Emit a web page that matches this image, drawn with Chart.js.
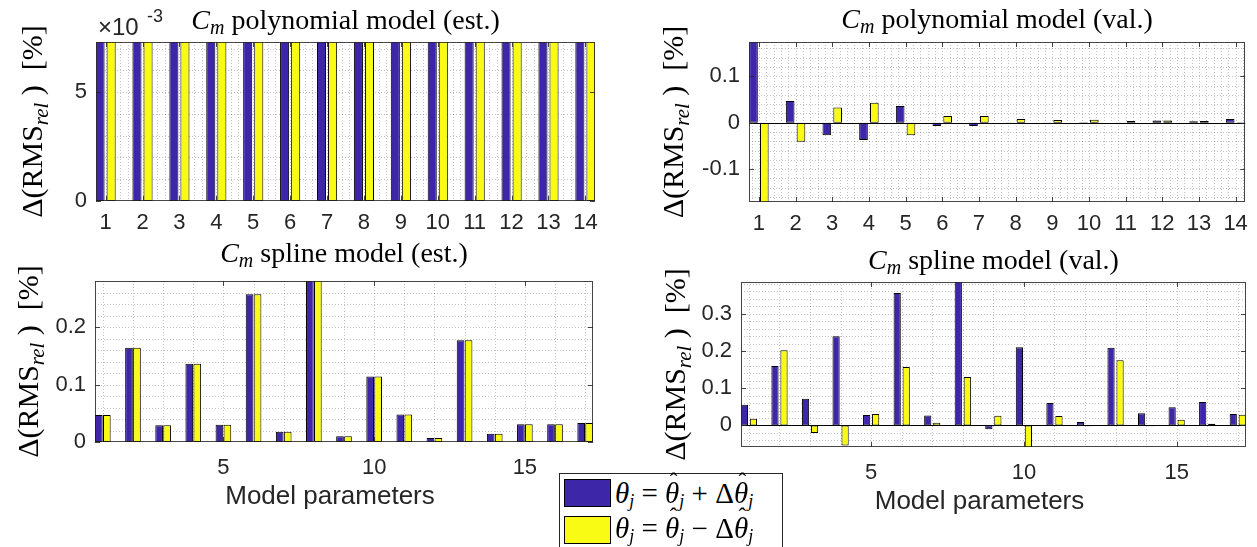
<!DOCTYPE html>
<html lang="en">
<head>
<meta charset="UTF-8">
<title>Cm models - parameter sensitivity</title>
<script src="https://cdn.jsdelivr.net/npm/chart.js"></script>
<style>
    body { margin: 0; background: #fff; overflow: hidden; }
    #fig { position: relative; width: 1257px; height: 547px; overflow: hidden; }
    #fig canvas { position: absolute; }
    .legend {
        position: absolute; left: 559px; top: 473px; width: 222px; height: 90px;
        border: 1px solid #262626; background: #fff;
        font-family: 'Liberation Serif', serif; font-size: 29px; line-height: 1; color: #000;
    }
    .row { position: absolute; left: 4px; height: 28px; display: flex; align-items: center; white-space: nowrap; }
    .sw { display: inline-block; width: 45px; height: 26px; border: 1px solid #000; margin-right: 4px; }
    .legend sub { font-size: 0.62em; vertical-align: -0.24em; line-height: 0; }
    .hat { position: relative; display: inline-block; line-height: 1; }
    .hat .h { position: absolute; left: 0.2em; top: -0.36em; font-style: normal; font-size: 0.8em; }
</style>
</head>
<body>
<div id="fig">
    <canvas id="tl" width="628" height="240" style="left:0;top:0"></canvas>
    <canvas id="tr" width="629" height="240" style="left:628px;top:0"></canvas>
    <canvas id="bl" width="628" height="307" style="left:0;top:240px"></canvas>
    <canvas id="br" width="629" height="307" style="left:628px;top:240px"></canvas>
    <div class="legend">
        <div class="row" style="top:5px"><span class="sw" style="background:#3E26A8"></span><span><i>θ</i><sub><i>j</i></sub>&nbsp;=&nbsp;<i class="hat">θ<span class="h">ˆ</span></i><sub><i>j</i></sub>&nbsp;+&nbsp;Δ<i class="hat">θ<span class="h">ˆ</span></i><sub><i>j</i></sub></span></div>
        <div class="row" style="top:42px"><span class="sw" style="background:#F9FB15"></span><span style="position:relative;top:-2px"><i>θ</i><sub><i>j</i></sub>&nbsp;=&nbsp;<i class="hat">θ<span class="h">ˆ</span></i><sub><i>j</i></sub>&nbsp;−&nbsp;Δ<i class="hat">θ<span class="h">ˆ</span></i><sub><i>j</i></sub></span></div>
    </div>
</div>

<script>
    // parameters / ticks
    const polyParams = [1, 2, 3, 4, 5, 6, 7, 8, 9, 10, 11, 12, 13, 14];
    const splineParams = [1, 2, 3, 4, 5, 6, 7, 8, 9, 10, 11, 12, 13, 14, 15, 16, 17];
    const polyXTicks = [1, 2, 3, 4, 5, 6, 7, 8, 9, 10, 11, 12, 13, 14];
    const splineXTicks = [5, 10, 15];
    const polyEstYTicks = [0, 0.005];
    const polyValYTicks = [-0.1, 0, 0.1];
    const splineEstYTicks = [0, 0.1, 0.2];
    const splineValYTicks = [0, 0.1, 0.2, 0.3];

    // Delta RMS_rel [%], theta + dtheta / theta - dtheta
    const polyEstPlus = [0.0095, 0.0092, 0.0098, 0.0094, 0.0090, 0.0096, 0.0093, 0.0097, 0.0091, 0.0095, 0.0092, 0.0096, 0.0094, 0.0093];
    const polyEstMinus = [0.0095, 0.0092, 0.0098, 0.0094, 0.0090, 0.0096, 0.0093, 0.0097, 0.0091, 0.0095, 0.0092, 0.0096, 0.0094, 0.0093];
    const polyValPlus = [0.21, 0.047, -0.027, -0.0375, 0.036, -0.007, -0.007, -0.0015, -0.002, 0.0008, 0.0005, 0.005, 0.003, 0.008];
    const polyValMinus = [-0.21, -0.041, 0.033, 0.043, -0.027, 0.0144, 0.0144, 0.008, 0.0058, 0.0065, 0.0036, 0.005, 0.0036, 0.001];
    const splineEstPlus = [0.047, 0.164, 0.029, 0.136, 0.030, 0.257, 0.018, 0.30, 0.010, 0.114, 0.048, 0.007, 0.177, 0.0144, 0.031, 0.031, 0.033];
    const splineEstMinus = [0.047, 0.164, 0.029, 0.136, 0.030, 0.257, 0.018, 0.30, 0.010, 0.114, 0.048, 0.007, 0.177, 0.0144, 0.031, 0.031, 0.033];
    const splineValPlus = [0.0555, 0.160, 0.0716, 0.240, 0.028, 0.356, 0.027, 0.42, -0.010, 0.210, 0.060, 0.009, 0.2086, 0.033, 0.049, 0.0627, 0.031];
    const splineValMinus = [0.018, 0.202, -0.0206, -0.0537, 0.031, 0.157, 0.007, 0.130, 0.026, -0.08, 0.025, -0.002, 0.1755, -0.002, 0.015, 0.0045, 0.0286];

    const BLUE = '#3E26A8';
    const YELLOW = '#F9FB15';
    const SERIF = '"Liberation Serif", serif';
    const SANS = '"Liberation Sans", Arial, sans-serif';
    const AXC = '#262626';

    function richWidth(ctx, parts) {
        let w = 0;
        parts.forEach(function (p) { ctx.font = p.font; w += ctx.measureText(p.t).width; });
        return w;
    }
    function drawRich(ctx, parts, cx, y) {
        let x = cx - richWidth(ctx, parts) / 2;
        parts.forEach(function (p) {
            ctx.font = p.font;
            ctx.fillText(p.t, x, y + (p.dy || 0));
            x += ctx.measureText(p.t).width;
        });
    }
    function gridLines(ctx, scale, step, a, vertical) {
        const k0 = Math.ceil(scale.min / step - 1e-9);
        for (let k = k0; k * step <= scale.max + 1e-12; k++) {
            const p = Math.round(scale.getPixelForValue(k * step)) + 0.5;
            ctx.beginPath();
            if (vertical) { ctx.moveTo(p, a.top); ctx.lineTo(p, a.bottom); }
            else { ctx.moveTo(a.left, p); ctx.lineTo(a.right, p); }
            ctx.stroke();
        }
    }

    const matlabLook = {
        id: 'matlabLook',
        beforeDatasetsDraw(chart, args, o) {
            const ctx = chart.ctx, a = chart.chartArea;
            ctx.save();
            ctx.beginPath();
            ctx.rect(a.left, a.top, a.width, a.height);
            ctx.clip();
            ctx.lineWidth = 1;
            ctx.setLineDash([1, 2]);
            ctx.strokeStyle = 'rgba(38,38,38,0.28)';
            gridLines(ctx, chart.scales.x, o.minorX, a, true);
            gridLines(ctx, chart.scales.y, o.minorY, a, false);
            ctx.restore();
        },
        afterDatasetsDraw(chart, args, o) {
            const ctx = chart.ctx, a = chart.chartArea;
            const xs = chart.scales.x, ys = chart.scales.y;
            ctx.save();
            ctx.lineWidth = 1;
            if (o.zeroLine) {
                const z = Math.round(ys.getPixelForValue(0)) + 0.5;
                ctx.strokeStyle = '#000';
                ctx.beginPath(); ctx.moveTo(a.left, z); ctx.lineTo(a.right, z); ctx.stroke();
            }
            ctx.strokeStyle = 'rgba(38,38,38,0.85)';
            ctx.strokeRect(Math.round(a.left) + 0.5, Math.round(a.top) + 0.5, Math.round(a.width) - 1, Math.round(a.height) - 1);
            const tl = 5;
            ctx.beginPath();
            xs.ticks.forEach(function (t) {
                const p = Math.round(xs.getPixelForValue(t.value)) + 0.5;
                ctx.moveTo(p, a.bottom); ctx.lineTo(p, a.bottom - tl);
                ctx.moveTo(p, a.top); ctx.lineTo(p, a.top + tl);
            });
            ys.ticks.forEach(function (t) {
                const p = Math.round(ys.getPixelForValue(t.value)) + 0.5;
                ctx.moveTo(a.left, p); ctx.lineTo(a.left + tl, p);
                ctx.moveTo(a.right, p); ctx.lineTo(a.right - tl, p);
            });
            ctx.stroke();
            ctx.restore();
        },
        afterDraw(chart, args, o) {
            const ctx = chart.ctx, a = chart.chartArea;
            const mid = (a.left + a.right) / 2;
            ctx.save();
            ctx.fillStyle = '#000';
            ctx.textBaseline = 'alphabetic';
            // title
            drawRich(ctx, [
                { t: 'C', font: 'italic 28px ' + SERIF },
                { t: 'm', font: 'italic 20px ' + SERIF, dy: 5 },
                { t: ' ' + o.title, font: '28px ' + SERIF }
            ], mid, a.top - o.titleGap);
            // y axis title
            ctx.save();
            ctx.translate(o.yTitleX, (a.top + a.bottom) / 2);
            ctx.rotate(-Math.PI / 2);
            drawRich(ctx, [
                { t: 'Δ(RMS', font: '30px ' + SERIF },
                { t: 'rel', font: 'italic 21px ' + SERIF, dy: 6 },
                { t: ' )  [%]', font: '30px ' + SERIF }
            ], 0, 10);
            ctx.restore();
            ctx.fillStyle = AXC;
            if (o.sci) {
                ctx.font = '24px ' + SANS;
                ctx.textAlign = 'left';
                ctx.fillText('×10', a.left + 2, a.top - 7);
                ctx.font = '18px ' + SANS;
                ctx.fillText('-3', a.left + 51, a.top - 20);
            }
            if (o.xTitle) {
                ctx.font = '26px ' + SANS;
                ctx.textAlign = 'center';
                ctx.fillText(o.xTitle, mid - 14, a.bottom + 62);
            }
            ctx.restore();
        }
    };

    function makePanel(id, p) {
        const tickFont = { family: SANS, size: 22 };
        new Chart(document.getElementById(id), {
            type: 'bar',
            data: {
                datasets: [{
                    data: p.params.map(function (v, i) { return { x: v, y: p.plus[i] }; }),
                    backgroundColor: BLUE
                }, {
                    data: p.params.map(function (v, i) { return { x: v, y: p.minus[i] }; }),
                    backgroundColor: YELLOW
                }]
            },
            options: {
                responsive: false,
                animation: false,
                devicePixelRatio: 1,
                layout: { padding: { top: p.padTop, right: p.padRight, left: 0, bottom: 0 } },
                datasets: {
                    bar: {
                        borderColor: '#000',
                        borderWidth: 1,
                        borderSkipped: false,
                        clip: 0,
                        categoryPercentage: p.catPct,
                        barPercentage: p.barPct
                    }
                },
                scales: {
                    x: {
                        type: 'linear',
                        offset: false,
                        min: p.xMin,
                        max: p.xMax,
                        afterBuildTicks: function (s) { s.ticks = p.xTicks.map(function (v) { return { value: v }; }); },
                        afterFit: function (s) { s.height = p.xH; },
                        grid: { display: false, drawTicks: false, offset: false },
                        border: { display: false },
                        ticks: { font: tickFont, color: AXC, padding: p.xPad, maxRotation: 0, autoSkip: false,
                            callback: function (v) { return String(v); } }
                    },
                    y: {
                        min: p.yMin,
                        max: p.yMax,
                        afterBuildTicks: function (s) { s.ticks = p.yTicks.map(function (v) { return { value: v }; }); },
                        afterFit: function (s) { s.width = p.yW; },
                        grid: { display: false, drawTicks: false },
                        border: { display: false },
                        ticks: { font: tickFont, color: AXC, padding: 9, callback: p.yLabel }
                    }
                },
                plugins: {
                    legend: { display: false },
                    tooltip: { enabled: false },
                    matlabLook: p.look
                }
            },
            plugins: [matlabLook]
        });
    }

    function plain(v) { return String(Math.round(v * 10) / 10); }

    makePanel('tl', {
        params: polyParams, plus: polyEstPlus, minus: polyEstMinus,
        xTicks: polyXTicks, yTicks: polyEstYTicks,
        xMin: 0.74, xMax: 14.26, yMin: 0, yMax: 0.0073,
        padTop: 42, padRight: 33, yW: 96, xH: 39, xPad: 9,
        catPct: 0.6, barPct: 0.82,
        yLabel: function (v) { return String(Math.round(v * 1000)); },
        look: { title: 'polynomial model (est.)', titleGap: 13, yTitleX: 32, minorX: 0.2, minorY: 0.001, sci: true }
    });
    makePanel('tr', {
        params: polyParams, plus: polyValPlus, minus: polyValMinus,
        xTicks: polyXTicks, yTicks: polyValYTicks,
        xMin: 0.73, xMax: 14.26, yMin: -0.171, yMax: 0.174,
        padTop: 42, padRight: 8, yW: 121, xH: 38, xPad: 9,
        catPct: 0.59, barPct: 0.8,
        yLabel: plain,
        look: { title: 'polynomial model (val.)', titleGap: 14, yTitleX: 45, minorX: 0.2, minorY: 0.02, zeroLine: true }
    });
    makePanel('bl', {
        params: splineParams, plus: splineEstPlus, minus: splineEstMinus,
        xTicks: splineXTicks, yTicks: splineEstYTicks,
        xMin: 0.74, xMax: 17.26, yMin: 0, yMax: 0.28,
        padTop: 41, padRight: 35, yW: 95, xH: 105, xPad: 13,
        catPct: 0.53, barPct: 0.96,
        yLabel: plain,
        look: { title: 'spline model (est.)', titleGap: 19, yTitleX: 28, minorX: 1, minorY: 0.02, xTitle: 'Model parameters' }
    });
    makePanel('br', {
        params: splineParams, plus: splineValPlus, minus: splineValMinus,
        xTicks: splineXTicks, yTicks: splineValYTicks,
        xMin: 0.74, xMax: 17.27, yMin: -0.058, yMax: 0.3855,
        padTop: 42, padRight: 11, yW: 113, xH: 100, xPad: 13,
        catPct: 0.59, barPct: 0.8,
        yLabel: plain,
        look: { title: 'spline model (val.)', titleGap: 13, yTitleX: 47, minorX: 1, minorY: 0.02, zeroLine: true, xTitle: 'Model parameters' }
    });
</script>
</body>
</html>
